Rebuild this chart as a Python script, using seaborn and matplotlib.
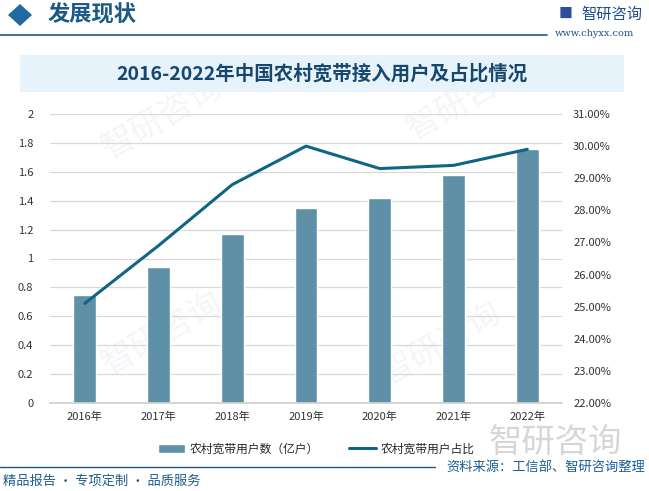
import numpy as np
import pandas as pd
import matplotlib
matplotlib.use("Agg")
import matplotlib.pyplot as plt
import seaborn as sns
from matplotlib.patches import Rectangle, Polygon
from matplotlib.ticker import FuncFormatter, MultipleLocator

years = ["2016年", "2017年", "2018年", "2019年", "2020年", "2021年", "2022年"]
users = [0.75, 0.94, 1.17, 1.35, 1.42, 1.58, 1.76]          # 亿户
share = [25.1, 26.9, 28.8, 30.0, 29.3, 29.4, 29.9]          # %

title = "2016-2022年中国农村宽带接入用户及占比情况"
bar_label = "农村宽带用户数（亿户）"
line_label = "农村宽带用户占比"
source = "资料来源：工信部、智研咨询整理"
slogan = "精品报告 · 专项定制 · 品质服务"

BAR = "#5e91a7"
LINE = "#0f6585"
DARK = "#1b5a86"

sns.set_theme(style="white")
plt.rcParams["font.family"] = ["Noto Sans CJK SC", "DejaVu Sans"]

df = pd.DataFrame({"year": years, "users": users, "share": share})

fig = plt.figure(figsize=(6.49, 4.91), dpi=100)

# faint watermarks, kept behind everything
for wx, wy in [(0.25, 0.76), (0.72, 0.8), (0.25, 0.32), (0.68, 0.3)]:
    fig.text(wx, wy, "智研咨询", fontsize=24, color="#f3f6f9", rotation=30,
             ha="center", va="center", zorder=-2)

ax = fig.add_axes([50 / 649, 1 - 403 / 491, 512 / 649, 289 / 491])
ax.set_facecolor("none")
sns.barplot(data=df, x="year", y="users", color=BAR, width=0.31, ax=ax,
            saturation=1, label=bar_label, zorder=2)
ax.set_ylim(0, 2)
ax.yaxis.set_major_locator(MultipleLocator(0.2))
ax.yaxis.set_major_formatter(FuncFormatter(lambda v, p: f"{v:g}"))
ax.grid(axis="y", color="#d9d9d9", linewidth=0.9, zorder=0)
ax.set_axisbelow(True)
for s in ["top", "right", "left"]:
    ax.spines[s].set_visible(False)
ax.spines["bottom"].set_color("#d0d0d0")
ax.set_xlabel("")
ax.set_ylabel("")
ax.tick_params(axis="y", labelsize=8, colors="#333333", length=0, pad=12)
ax.tick_params(axis="x", labelsize=8, colors="#333333", length=0, pad=6)

ax2 = ax.twinx()
sns.lineplot(x=np.arange(len(years)), y=share, color=LINE, linewidth=2.2,
             ax=ax2, label=line_label, zorder=3)
ax2.set_ylim(22, 31)
ax2.yaxis.set_major_locator(MultipleLocator(1))
ax2.yaxis.set_major_formatter(FuncFormatter(lambda v, p: f"{v:.2f}%"))
ax2.tick_params(axis="y", labelsize=8, colors="#333333", length=0, pad=8)
for s in ax2.spines.values():
    s.set_visible(False)
ax2.get_legend().remove()
ax2.set_ylabel("")

h1, l1 = ax.get_legend_handles_labels()
h2, l2 = ax2.get_legend_handles_labels()
ax.legend(h1 + h2, l1 + l2, loc="upper center", bbox_to_anchor=(0.52, -0.1),
          ncol=2, frameon=False, fontsize=8.5, handlelength=2.3,
          columnspacing=2.5, handletextpad=0.4)

# header
fig.patches.append(Polygon([[8 / 649, 1 - 15 / 491], [20 / 649, 1 - 4 / 491],
                            [32 / 649, 1 - 15 / 491], [20 / 649, 1 - 26 / 491]],
                           closed=True, transform=fig.transFigure,
                           facecolor="#1f6aa0", edgecolor="none"))
fig.text(48 / 649, 1 - 15 / 491, "发展现状", fontsize=16, fontweight="bold",
         color=DARK, va="center", ha="left")
fig.add_artist(plt.Line2D([0, 547 / 649], [1 - 35 / 491, 1 - 35 / 491],
                          color=DARK, linewidth=1.2))
fig.text(566 / 649, 1 - 14 / 491, "■", fontsize=10, color="#2b4f9a",
         ha="center", va="center")
fig.text(581 / 649, 1 - 14 / 491, "智研咨询", fontsize=11, color="#1f4f8f",
         ha="left", va="center")
fig.text(634 / 649, 1 - 34 / 491, "www.chyxx.com", fontsize=7, color="#1f4f8f",
         ha="right", va="center", family=["DejaVu Serif"])

# title box
fig.patches.append(Rectangle((20 / 649, 1 - 92 / 491), 604 / 649, 37 / 491,
                             transform=fig.transFigure, facecolor="#e7f3fa",
                             edgecolor="none", zorder=0))
fig.text(322 / 649, 1 - 74 / 491, title, fontsize=14, fontweight="bold",
         color="#17476e", ha="center", va="center")

# footer
fig.text(555 / 649, 1 - 442 / 491, "智研咨询", fontsize=24, color="#d6d6d6",
         ha="center", va="center", zorder=-1)
fig.add_artist(plt.Line2D([0, 435 / 649], [1 - 467 / 491, 1 - 467 / 491],
                          color=DARK, linewidth=1.0))
fig.text(645 / 649, 1 - 467 / 491, source, fontsize=9.5, color="#1a5f9a",
         ha="right", va="center")
fig.text(3 / 649, 1 - 481 / 491, slogan, fontsize=9.5, color="#1f5f8b",
         ha="left", va="center")

fig.savefig("out.png", dpi=100)
